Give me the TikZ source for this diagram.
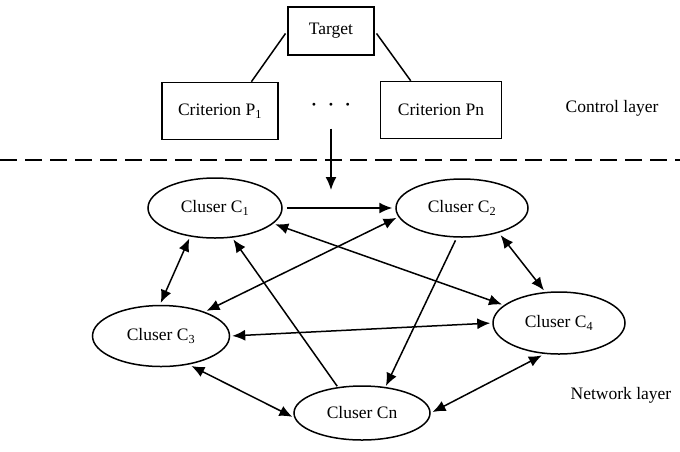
\documentclass[tikz,border=0pt]{standalone}
\usepackage{fontspec}
\setmainfont{Liberation Serif}
\usepackage{tikz}
\usetikzlibrary{positioning, shapes.geometric, arrows.meta}

\begin{document}
\begin{tikzpicture}[x=1pt, y=-1pt, line width=1.5pt,
    font=\fontsize{17.5}{20}\selectfont,
    box/.style={draw, minimum height=57pt},
    cluster/.style={draw, ellipse, minimum width=134pt, minimum height=60pt, inner sep=0pt},
    tip/.style={-{Latex[length=13pt,width=11pt]}},
    both/.style={{Latex[length=13pt,width=11pt]}-{Latex[length=13pt,width=11pt]}}]
    \useasboundingbox (0,0) rectangle (680,451);
    % control layer
    \node[draw, minimum width=86pt, minimum height=48pt] (target) at (331,31) {Target};
    \node[box, minimum width=116pt] (p1) at (220,111) {Criterion P\textsubscript{1}};
    \node[box, minimum width=121pt] (pn) at (441,110) {Criterion Pn};
    \node (dots) at (331,107) {\textbf{·}\hspace{11pt}\textbf{·}\hspace{11pt}\textbf{·}};
    \node (control) at (612,108) {Control layer};
    \draw[shorten <=3pt] (target.west)--(p1.43);
    \draw[shorten <=3pt] (target.east)--(pn.136);
    \draw[line width=1.7pt, dash pattern=on 17pt off 8pt] (0,160)--(680,160);
    \coordinate (layerin) at (331,190);
    \draw[tip, shorten <=14pt] (dots.south)--(layerin);
    % network layer
    \node[cluster] (c1) at (215,208) {Cluser C\textsubscript{1}};
    \node[cluster, minimum width=132pt, minimum height=58pt] (c2) at (462,208) {Cluser C\textsubscript{2}};
    \node[cluster, minimum width=137pt, minimum height=61pt] (c3) at (161,336) {Cluser C\textsubscript{3}};
    \node[cluster, minimum width=132pt, minimum height=62pt] (c4) at (559,323) {Cluser C\textsubscript{4}};
    \node[cluster, minimum width=136pt, minimum height=54pt] (cn) at (362,413) {Cluser Cn};
    \node (network) at (621,395) {Network layer};
    \draw[tip, shorten <=4pt, shorten >=3pt] (c1.east)--(c2.west);
    \draw[both, shorten <=2pt, shorten >=2pt] (c1.229)--(c3.92);
    \draw[both, shorten <=2pt, shorten >=2pt] (c2.188)--(c3.29);
    \draw[both, shorten <=2pt, shorten >=2pt] (c1.-15)--(c4.162);
    \draw[tip, shorten <=1pt, shorten >=2pt] (cn.133)--(c1.-60);
    \draw[tip, shorten <=3pt, shorten >=1pt] (c2.-100)--(cn.48);
    \draw[both, shorten <=3pt, shorten >=2pt] (c2.-34)--(c4.114);
    \draw[both, shorten <=2pt, shorten >=2pt] (c3.east)--(c4.west);
    \draw[both, shorten <=3pt, shorten >=2pt] (c3.-46)--(cn.184);
    \draw[both, shorten <=3pt, shorten >=2pt] (c4.-115)--(cn.east);
\end{tikzpicture}
\end{document}
